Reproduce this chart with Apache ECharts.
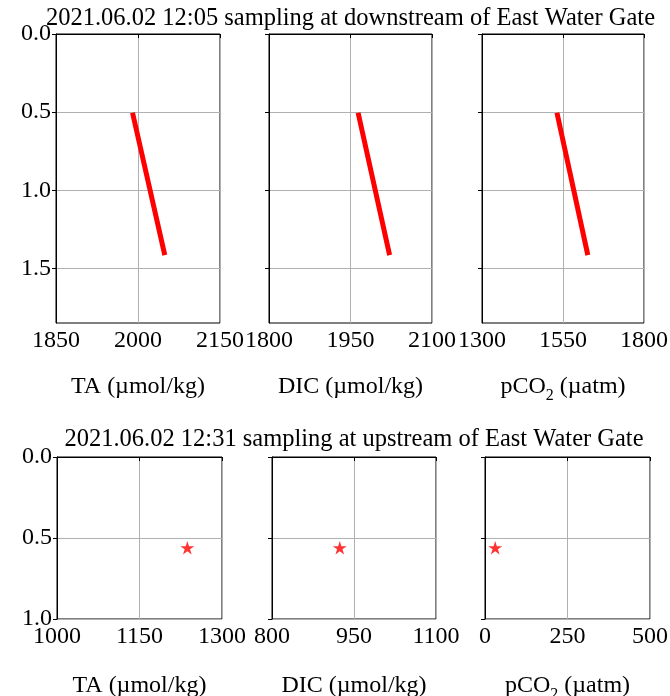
<!DOCTYPE html>
<html>
<head>
<meta charset="utf-8">
<script src="https://cdn.jsdelivr.net/npm/echarts@6/dist/echarts.min.js"></script>
<style>
  html, body { margin: 0; padding: 0; background: #fff; }
  #chart { width: 670px; height: 696px; }
</style>
</head>
<body>
<div id="chart"></div>
<script>
// Depth profiles (m) of carbonate parameters at the East Water Gate, 2021-06-02
const depthDown = [0.52, 1.40];
const taDown = [1991, 2048];
const dicDown = [1965, 2021];
const pco2Down = [1533, 1625];

const depthUp = [0.56];
const taUp = [1237];
const dicUp = [924];
const pco2Up = [31];

// Axis ranges and tick values
const xTicksTop = [[1850, 2000, 2150], [1800, 1950, 2100], [1300, 1550, 1800]];
const xTicksBottom = [[1000, 1150, 1300], [800, 950, 1100], [0, 250, 500]];
const yTicksTop = [0, 0.5, 1.0, 1.5];
const yMaxTop = 1.85;
const yTicksBottom = [0, 0.5, 1.0];

const titleTop = '2021.06.02 12:05 sampling at downstream of East Water Gate';
const titleBottom = '2021.06.02 12:31 sampling at upstream of East Water Gate';
const xNames = ['{t|TA (µmol/kg)}', '{t|DIC (µmol/kg)}', '{t|pCO}{s|2}{t| (µatm)}'];

const FONT = '"Liberation Serif", "Times New Roman", serif';
const FS = 24;
const TITLE_FS = 24.5;

const grids = [
  { left: 56, top: 34, width: 164, height: 289 },
  { left: 269, top: 34, width: 163, height: 289 },
  { left: 482, top: 34, width: 162, height: 289 },
  { left: 57, top: 457, width: 165, height: 162 },
  { left: 272, top: 457, width: 164, height: 162 },
  { left: 485, top: 457, width: 165, height: 162 }
];

const STAR = 'path://M100 0 L122.45 69.1 L195.1 69.1 L136.3 111.8 L158.8 180.9 L100 138.2 L41.2 180.9 L63.7 111.8 L4.9 69.1 L77.55 69.1 Z';

const nameRich = {
  t: { fontFamily: FONT, fontSize: FS, color: '#000', lineHeight: 30, verticalAlign: 'bottom' },
  s: { fontFamily: FONT, fontSize: 16, color: '#000', lineHeight: 30, verticalAlign: 'bottom', padding: [0, 0, -5, 0] }
};

function xAxisFor(i) {
  const top = i < 3;
  const ticks = top ? xTicksTop[i] : xTicksBottom[i - 3];
  const col = i % 3;
  return {
    type: 'value',
    gridIndex: i,
    min: ticks[0],
    max: ticks[ticks.length - 1],
    name: xNames[col],
    nameLocation: 'middle',
    nameGap: top ? 46 : 49,
    nameTextStyle: { rich: nameRich },
    axisLine: { show: true, lineStyle: { color: '#000', width: 1 } },
    axisTick: { show: true, inside: false, length: 4, customValues: ticks, lineStyle: { color: '#000', width: 1 } },
    axisLabel: {
      show: true, customValues: ticks, margin: 6,
      fontFamily: FONT, fontSize: FS, color: '#000',
      showMinLabel: true, showMaxLabel: true,
      formatter: v => String(Math.round(v))
    },
    splitLine: { show: true, lineStyle: { color: '#b0b0b0', width: 1 } }
  };
}

function yAxisFor(i) {
  const top = i < 3;
  const ticks = top ? yTicksTop : yTicksBottom;
  return {
    type: 'value',
    gridIndex: i,
    inverse: true,
    min: 0,
    max: top ? yMaxTop : yTicksBottom[yTicksBottom.length - 1],
    axisLine: { show: true, lineStyle: { color: '#000', width: 1 } },
    axisTick: { show: true, inside: false, length: 4, customValues: ticks, lineStyle: { color: '#000', width: 1 } },
    axisLabel: {
      show: i % 3 === 0, customValues: ticks, margin: 5,
      fontFamily: FONT, fontSize: FS, color: '#000',
      formatter: v => Number(v).toFixed(1)
    },
    splitLine: { show: true, lineStyle: { color: '#b0b0b0', width: 1 } }
  };
}

const topX = [taDown, dicDown, pco2Down];
const botX = [taUp, dicUp, pco2Up];

const series = [];
topX.forEach((xs, k) => {
  series.push({
    type: 'line',
    xAxisIndex: k, yAxisIndex: k,
    data: depthDown.map((d, j) => [xs[j], d]),
    showSymbol: false,
    lineStyle: { color: '#ff0000', width: 5, cap: 'square' },
    silent: true
  });
});
botX.forEach((xs, k) => {
  series.push({
    type: 'scatter',
    xAxisIndex: k + 3, yAxisIndex: k + 3,
    data: depthUp.map((d, j) => [xs[j], d]),
    symbol: STAR,
    symbolKeepAspect: true,
    symbolSize: 14,
    itemStyle: { color: '#ff0000' },
    silent: true
  });
});

const chart = echarts.init(document.getElementById('chart'), null, { renderer: 'canvas' });
chart.setOption({
  animation: false,
  backgroundColor: '#fff',
  grid: grids.map(g => Object.assign({
    show: true, borderColor: '#000', borderWidth: 1, backgroundColor: 'transparent',
    containLabel: false, outerBoundsMode: 'none'
  }, g)),
  xAxis: grids.map((g, i) => xAxisFor(i)),
  yAxis: grids.map((g, i) => yAxisFor(i)),
  series: series,
  graphic: [
    { type: 'text', x: 350.5, y: 19, style: { text: titleTop, font: TITLE_FS + 'px ' + FONT, fill: '#000', textAlign: 'center', textVerticalAlign: 'middle' } },
    { type: 'text', x: 354, y: 440, style: { text: titleBottom, font: TITLE_FS + 'px ' + FONT, fill: '#000', textAlign: 'center', textVerticalAlign: 'middle' } }
  ]
});
</script>
</body>
</html>
